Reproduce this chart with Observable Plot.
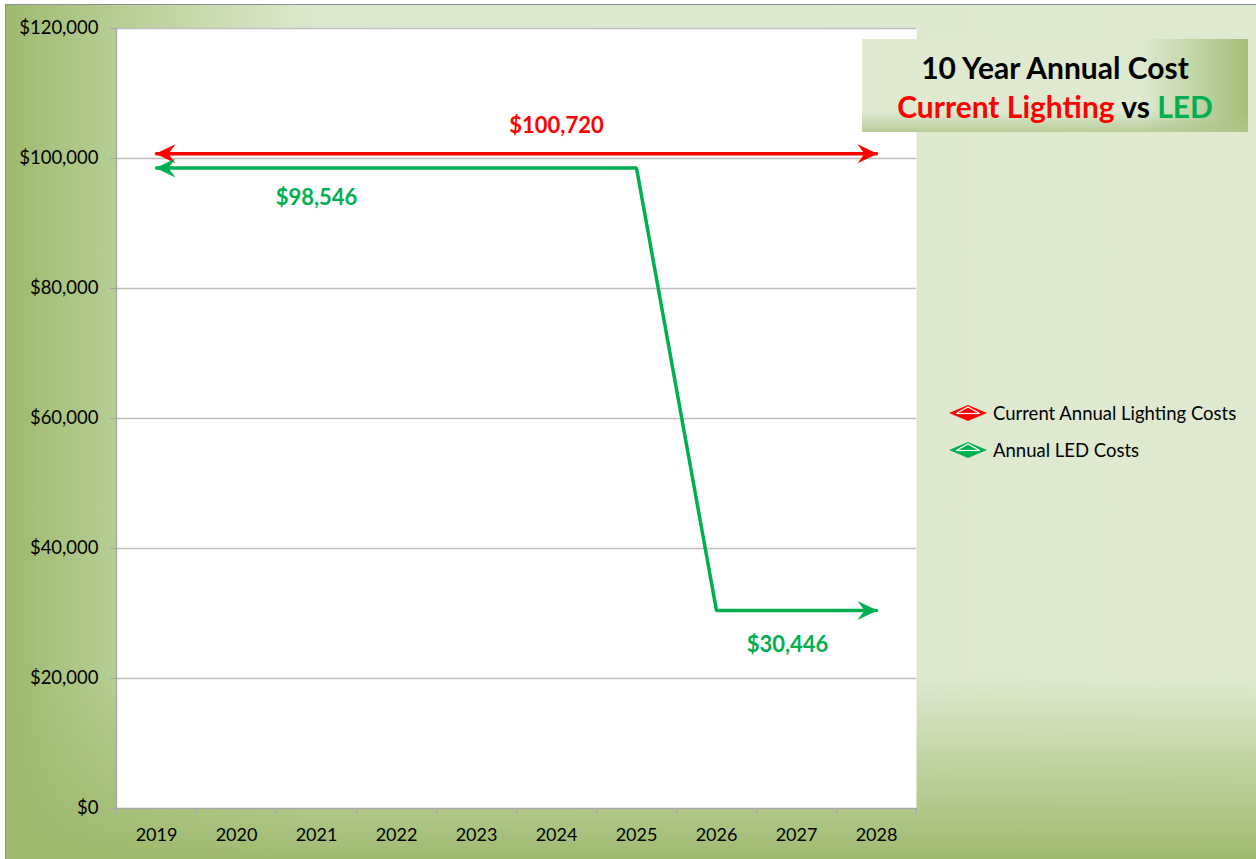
<!DOCTYPE html>
<html><head><meta charset="utf-8">
<script src="https://cdn.jsdelivr.net/npm/d3@7"></script>
<script src="https://cdn.jsdelivr.net/npm/@observablehq/plot@0.6"></script>
<style>
html,body{margin:0;padding:0;width:1256px;height:859px;overflow:hidden;background:#fff;font-family:Lato,sans-serif}
#frame{position:absolute;left:5px;top:4px;width:1300px;height:900px;border:1px solid #8f8f8f;
background:
 linear-gradient(to bottom, rgba(158,186,110,0) 0px, rgba(158,186,110,0) 672px, rgba(158,186,110,1) 856px),
 linear-gradient(to right, #9dba6e 0px, #b5cd92 105px, #dce8cd 300px, #dfead1 100%);}
#chart{position:absolute;left:0;top:0}
#titlebox{position:absolute;left:862px;top:39px;width:386px;height:93px;
background:
 linear-gradient(to bottom, rgba(180,200,150,0) 0px, rgba(180,200,150,0) 72px, rgba(175,197,140,0.8) 93px),
 linear-gradient(to right, #dfead1 0%, #dfead1 72%, #c2d6a6 86%, #a3be76 100%);
text-align:center;font-weight:bold;font-size:30px;line-height:39px;padding-top:9px;box-sizing:border-box;color:#000}
.red{color:#ff0000}.green{color:#00b050}
.leg{position:absolute;left:948px;height:24px;display:flex;align-items:center;font-size:18.5px;color:#000}
.leg svg{margin-right:5px}
</style></head>
<body>
<div id="frame"></div>
<div id="chart"></div>
<div id="titlebox"><div>10 Year Annual Cost</div><div><span class="red">Current Lighting</span> vs <span class="green">LED</span></div></div>
<div class="leg" style="top:401px"><svg width="40" height="18"><polygon points="1,9 20,1 39,9 20,17" fill="#ff0000"/><polyline points="9,9 20,3 31,9" fill="none" stroke="#fff" stroke-width="1.2"/><line x1="8" y1="9.5" x2="32" y2="9.5" stroke="#fff" stroke-width="1.2"/></svg>Current Annual Lighting Costs</div>
<div class="leg" style="top:438px"><svg width="40" height="18"><polygon points="1,9 20,1 39,9 20,17" fill="#00b050"/><polyline points="9,9 20,3 31,9" fill="none" stroke="#fff" stroke-width="1.2"/><line x1="8" y1="9.5" x2="32" y2="9.5" stroke="#fff" stroke-width="1.2"/></svg>Annual LED Costs</div>
<script>
const years = [2019, 2020, 2021, 2022, 2023, 2024, 2025, 2026, 2027, 2028];
const currentCosts = [100720, 100720, 100720, 100720, 100720, 100720, 100720, 100720, 100720, 100720];
const ledCosts = [98546, 98546, 98546, 98546, 98546, 98546, 98546, 30446, 30446, 30446];
const yTicks = [0, 20000, 40000, 60000, 80000, 100000, 120000];
const labels = [
  {year: 2024, value: 100720, text: "$100,720", series: "current", dy: -28, dx: 0},
  {year: 2021, value: 98546, text: "$98,546", series: "led", dy: 30, dx: 0},
  {year: 2027, value: 30446, text: "$30,446", series: "led", dy: 34, dx: -9}
];
const RED = "#ff0000", GREEN = "#00b050";

const current = years.map((y, i) => ({year: y, value: currentCosts[i]}));
const led = years.map((y, i) => ({year: y, value: ledCosts[i]}));
const ends = (rows, color) => [
  {year: rows[0].year, value: rows[0].value, dir: 180, color},
  {year: rows[rows.length - 1].year, value: rows[rows.length - 1].value, dir: 0, color}
];
const arrows = [...ends(current, RED), ...ends(led, GREEN)];
const stealth = {draw(ctx) { ctx.moveTo(1, 0); ctx.lineTo(-19, -9.5); ctx.lineTo(-12, 0); ctx.lineTo(-19, 9.5); ctx.closePath(); }};
const bounds = d3.range(years.length + 1).map(i => years[0] - 0.5 + i);
const fmt = d3.format("$,");

const chart = Plot.plot({
  width: 1256, height: 859,
  marginLeft: 116, marginRight: 340, marginTop: 28, marginBottom: 51,
  style: {background: "transparent", fontFamily: "Lato, sans-serif", fontSize: "18px", color: "#000", overflow: "visible"},
  x: {type: "linear", domain: [years[0] - 0.5, years[years.length - 1] + 0.5]},
  y: {domain: [0, 120000]},
  marks: [
    Plot.frame({fill: "white", stroke: "none"}),
    Plot.gridY(yTicks.filter(d => d > 0), {stroke: "#bfbfbf", strokeOpacity: 1, strokeWidth: 1.3}),
    Plot.axisY(yTicks, {tickFormat: fmt, tickSize: 6, tickPadding: 12, stroke: "#a6a6a6", fill: "#000", label: null, fontSize: 18.5}),
    Plot.ruleX([years[0] - 0.5], {stroke: "#a6a6a6", strokeWidth: 1.3}),
    Plot.ruleY([0], {stroke: "#a6a6a6", strokeWidth: 1.3}),
    Plot.axisX(bounds, {tickFormat: () => "", tickSize: 6, stroke: "#a6a6a6", label: null}),
    Plot.axisX(years, {tickFormat: d => String(d), tickSize: 0, tickPadding: 20, fill: "#000", label: null, fontSize: 18}),
    Plot.line(current, {x: "year", y: "value", stroke: RED, strokeWidth: 3.5}),
    Plot.line(led, {x: "year", y: "value", stroke: GREEN, strokeWidth: 3.5, strokeLinejoin: "miter"}),
    Plot.dot(arrows, {x: "year", y: "value", symbol: stealth, rotate: "dir", fill: "color", stroke: "none", r: 8}),
    ...labels.map(l => Plot.text([l], {x: "year", y: "value", text: "text", dy: l.dy, dx: l.dx,
      fill: l.series === "current" ? RED : GREEN, fontWeight: "bold", fontSize: 22}))
  ]
});
document.getElementById("chart").appendChild(chart);
</script>
</body></html>
